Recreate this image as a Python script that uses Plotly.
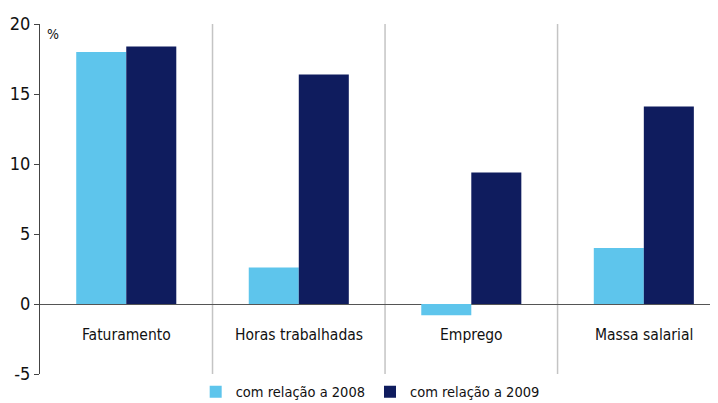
import plotly.graph_objects as go

categories = ["Faturamento", "Horas trabalhadas", "Emprego", "Massa salarial"]
rel_2008 = [18.0, 2.6, -0.8, 4.0]
rel_2009 = [18.4, 16.4, 9.4, 14.1]
series_names = ["com relação a 2008", "com relação a 2009"]
y_ticks = [-5, 0, 5, 10, 15, 20]
y_tick_labels = ["-5", "0", "5", "10", "15", "20"]

FONT = "DejaVu Sans Condensed, Liberation Sans Narrow, sans-serif"
x_idx = list(range(len(categories)))

fig = go.Figure()
fig.add_trace(go.Bar(x=x_idx, y=rel_2008, name=series_names[0], marker_color="#5EC5EC",
                     marker_line_width=0))
fig.add_trace(go.Bar(x=x_idx, y=rel_2009, name=series_names[1], marker_color="#0F1C5E",
                     marker_line_width=0))

shapes = []
for i in range(len(categories) - 1):
    shapes.append(dict(type="line", xref="x", yref="y", x0=i + 0.5, x1=i + 0.5, y0=-5, y1=20,
                       line=dict(color="#C4C4C4", width=1.5), layer="below"))

annotations = []
for i, c in enumerate(categories):
    annotations.append(dict(x=i, y=-2.2, xref="x", yref="y", text=c, showarrow=False,
                            font=dict(family=FONT, size=15.5, color="#111")))
annotations.append(dict(x=0, y=1, xref="paper", yref="paper", text="%", showarrow=False,
                        xanchor="left", yanchor="top", xshift=5, yshift=0,
                        font=dict(family=FONT, size=14, color="#111")))

fig.update_layout(
    width=710, height=395,
    margin=dict(l=32, r=0, t=16, b=29, autoexpand=False),
    paper_bgcolor="white", plot_bgcolor="white",
    barmode="group", bargap=0.42, bargroupgap=0,
    font=dict(family=FONT, size=15, color="#111"),
    xaxis=dict(range=[-0.5, 3.43], showticklabels=False, showgrid=False, zeroline=False,
               showline=False, fixedrange=True, automargin=False),
    yaxis=dict(range=[-5, 20], tickvals=y_ticks, ticktext=y_tick_labels, showgrid=False,
               zeroline=True, automargin=False,
               zerolinecolor="#555", zerolinewidth=1.2, showline=True, linecolor="#444",
               linewidth=1.2, ticks="outside", ticklen=5, tickcolor="#444",
               tickfont=dict(family=FONT, size=18, color="#111")),
    legend=dict(orientation="h", x=0.487, y=-0.051, xanchor="center", yanchor="middle",
                font=dict(family=FONT, size=14.5, color="#111"), itemwidth=30,
                traceorder="normal"),
    shapes=shapes, annotations=annotations,
    showlegend=True,
)

fig.write_html("out.html")
